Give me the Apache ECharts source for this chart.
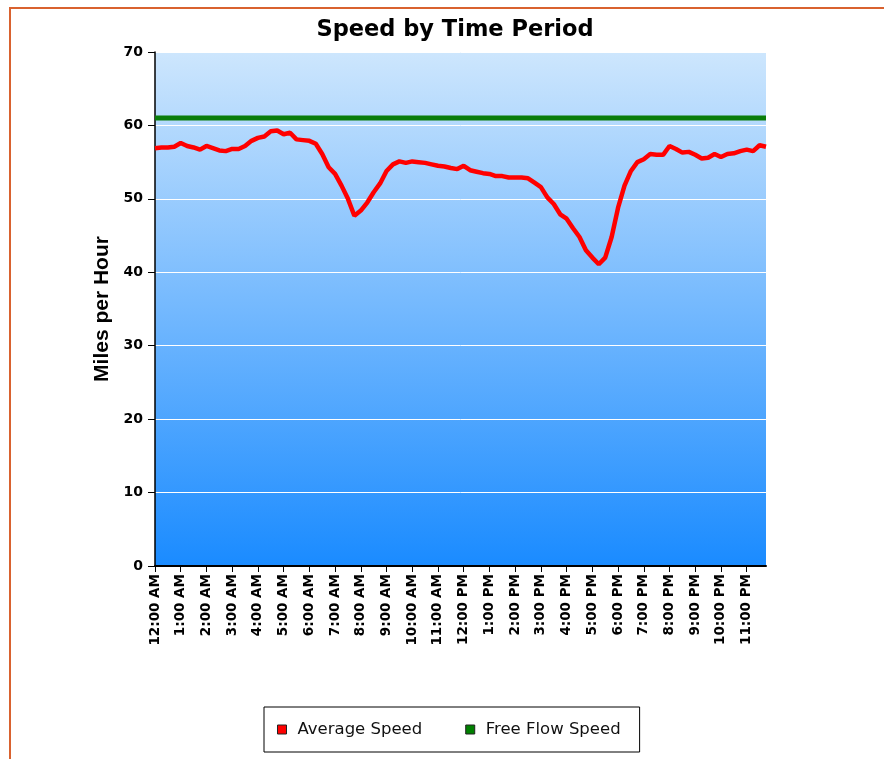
<!DOCTYPE html>
<html>
<head>
<meta charset="utf-8">
<title>Speed by Time Period</title>
<script src="https://cdn.jsdelivr.net/npm/echarts@6/dist/echarts.min.js"></script>
<style>
  html, body { margin: 0; padding: 0; background: #fff; }
  #chart { width: 884px; height: 759px; }
</style>
</head>
<body>
<div id="chart"></div>
<script>
// hour labels shown on the x axis (one tick per hour, data every 15 minutes)
const hourLabels = [
  '12:00 AM', '1:00 AM', '2:00 AM', '3:00 AM', '4:00 AM', '5:00 AM',
  '6:00 AM', '7:00 AM', '8:00 AM', '9:00 AM', '10:00 AM', '11:00 AM',
  '12:00 PM', '1:00 PM', '2:00 PM', '3:00 PM', '4:00 PM', '5:00 PM',
  '6:00 PM', '7:00 PM', '8:00 PM', '9:00 PM', '10:00 PM', '11:00 PM'
]
const quarters = ['00', '15', '30', '45']

// average speed, one value per 15 minutes
const averageSpeed = [
  56.9, 57.0, 57.0, 57.1, 57.6, 57.2, 57.0, 56.7,
  57.2, 56.9, 56.6, 56.5, 56.8, 56.8, 57.2, 57.9,
  58.3, 58.5, 59.2, 59.3, 58.8, 59.0, 58.1, 58.0,
  57.9, 57.5, 56.1, 54.3, 53.4, 51.8, 50.0, 47.7,
  48.4, 49.5, 50.9, 52.1, 53.8, 54.7, 55.1, 54.9,
  55.1, 55.0, 54.9, 54.7, 54.5, 54.4, 54.2, 54.05,
  54.5, 53.9, 53.7, 53.5, 53.4, 53.1, 53.1, 52.9,
  52.9, 52.9, 52.8, 52.2, 51.6, 50.2, 49.3, 47.9,
  47.3, 46.0, 44.8, 43.0, 42.0, 41.1, 42.0, 44.8,
  48.8, 51.8, 53.8, 55.0, 55.4, 56.1, 56.0, 56.0,
  57.2, 56.8, 56.3, 56.4, 56.0, 55.5, 55.6, 56.1,
  55.7, 56.1, 56.2, 56.5, 56.7, 56.5, 57.3, 57.1
]
const freeFlowSpeed = 61
const yTicks = [0, 10, 20, 30, 40, 50, 60, 70]

const categories = []
hourLabels.forEach((h) => {
  quarters.forEach((q) => {
    categories.push(h.replace(':00', ':' + q))
  })
})
const freeFlow = categories.map(() => freeFlowSpeed)

// small square legend marker with some room on its right
const legendIcon = 'path://M0,0h9v9h-9z M15,4.5'

const myChart = echarts.init(document.getElementById('chart'))

const option = {
  animation: false,
  backgroundColor: '#fff',
  textStyle: {
    fontFamily: 'DejaVu Sans'
  },
  title: {
    text: 'Speed by Time Period',
    left: 450,
    top: 14,
    textAlign: 'center',
    textStyle: {
      fontSize: 22.5,
      fontWeight: 'bold',
      color: '#000',
      fontFamily: 'DejaVu Sans'
    }
  },
  graphic: [
    {
      type: 'polyline',
      shape: { points: [[10, 759], [10, 8], [884, 8]] },
      style: { stroke: '#d9622f', lineWidth: 2, fill: null },
      silent: true
    }
  ],
  legend: {
    left: 264,
    top: 707,
    padding: [14, 19, 14, 13],
    borderColor: '#000',
    borderWidth: 1,
    backgroundColor: '#fff',
    itemGap: 43,
    itemWidth: 15,
    itemHeight: 9,
    textStyle: {
      fontSize: 16.5,
      color: '#111',
      fontFamily: 'DejaVu Sans'
    },
    data: [
      { name: 'Average Speed', icon: legendIcon, itemStyle: { color: '#ff0000', borderColor: '#222', borderWidth: 1 } },
      { name: 'Free Flow Speed', icon: legendIcon, itemStyle: { color: '#008000', borderColor: '#222', borderWidth: 1 } }
    ]
  },
  grid: {
    left: 155,
    right: 118,
    top: 52,
    bottom: 193,
    show: true,
    borderWidth: 0,
    backgroundColor: new echarts.graphic.LinearGradient(0, 0, 0, 1, [
      { offset: 0, color: '#cde6fd' },
      { offset: 1, color: '#1a8bff' }
    ])
  },
  xAxis: {
    type: 'category',
    boundaryGap: false,
    data: categories,
    axisLine: {
      lineStyle: { color: '#000', width: 2 }
    },
    axisTick: {
      interval: 3,
      length: 6,
      lineStyle: { color: '#000', width: 1 }
    },
    axisLabel: {
      interval: 3,
      rotate: 90,
      margin: 8,
      fontSize: 13.5,
      fontWeight: 'bold',
      color: '#000'
    },
    splitLine: { show: false }
  },
  yAxis: {
    type: 'value',
    min: yTicks[0],
    max: yTicks[yTicks.length - 1],
    interval: 10,
    name: 'Miles per Hour',
    nameLocation: 'middle',
    nameGap: 38,
    nameTextStyle: {
      fontSize: 21,
      fontWeight: 'bold',
      color: '#000',
      fontFamily: 'Liberation Sans'
    },
    axisLine: {
      show: true,
      lineStyle: { color: '#000', width: 1.5 }
    },
    axisTick: {
      show: true,
      length: 7,
      lineStyle: { color: '#000' }
    },
    axisLabel: {
      margin: 12,
      fontSize: 14,
      fontWeight: 'bold',
      color: '#000'
    },
    splitLine: {
      lineStyle: { color: '#fff', width: 1 }
    }
  },
  series: [
    {
      name: 'Average Speed',
      type: 'line',
      data: averageSpeed,
      showSymbol: false,
      symbol: 'none',
      color: '#ff0000',
      lineStyle: { color: '#ff0000', width: 4.5 },
      z: 3
    },
    {
      name: 'Free Flow Speed',
      type: 'line',
      data: freeFlow,
      showSymbol: false,
      symbol: 'none',
      color: '#008000',
      lineStyle: { color: '#0a7d0a', width: 5 },
      z: 2
    }
  ]
}
myChart.setOption(option)
</script>
</body>
</html>
